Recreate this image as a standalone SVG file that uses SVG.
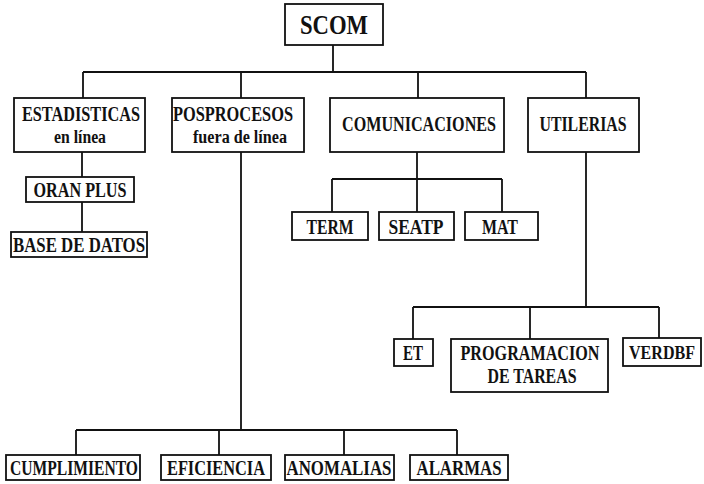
<svg xmlns="http://www.w3.org/2000/svg" width="704" height="484" viewBox="0 0 704 484">
<style>
.b{fill:#fff;stroke:#111;stroke-width:1.8}
.t{font-family:"Liberation Serif","Times New Roman",serif;font-weight:bold;font-size:20px;fill:#111;text-anchor:middle}
.s{font-size:18px}
.c{fill:none;stroke:#111;stroke-width:1.8}
</style>
<rect width="704" height="484" fill="#fff"/>
<g id="connectors" class="c">
<path d="M333,45V72M83,72H586M83,72V98M241,72V98M418,72V98M586,72V98"/>
<path d="M82,152V177M82,202V232"/>
<path d="M241,152V430M76,430H457M76,430V455M219,430V455M344,430V455M457,430V455"/>
<path d="M417,152V179M332,179H502M332,179V212M417,179V212M502,179V212"/>
<path d="M586,152V307M413,307H659M413,307V339M530,307V339M659,307V338"/>
</g>
<g id="scom"><rect class="b" x="285" y="4" width="98" height="41"/><text class="t" x="334" y="34" style="font-size:27px" textLength="68" lengthAdjust="spacingAndGlyphs">SCOM</text></g>
<g id="estadisticas"><rect class="b" x="14" y="98" width="131" height="54"/><text class="t" x="81" y="121" textLength="118" lengthAdjust="spacingAndGlyphs">ESTADISTICAS</text><text class="t s" x="80" y="143" textLength="52" lengthAdjust="spacingAndGlyphs">en línea</text></g>
<g id="posprocesos"><rect class="b" x="172" y="98" width="132" height="54"/><text class="t" x="233" y="121" textLength="120" lengthAdjust="spacingAndGlyphs">POSPROCESOS</text><text class="t s" x="240" y="143" textLength="94" lengthAdjust="spacingAndGlyphs">fuera de línea</text></g>
<g id="comunicaciones"><rect class="b" x="330" y="98" width="174" height="54"/><text class="t" x="419" y="131" textLength="154" lengthAdjust="spacingAndGlyphs">COMUNICACIONES</text></g>
<g id="utilerias"><rect class="b" x="528" y="98" width="111" height="54"/><text class="t" x="583" y="131" textLength="87" lengthAdjust="spacingAndGlyphs">UTILERIAS</text></g>
<g id="oranplus"><rect class="b" x="26" y="177" width="108" height="25"/><text class="t" x="80" y="197" textLength="93" lengthAdjust="spacingAndGlyphs">ORAN PLUS</text></g>
<g id="basedatos"><rect class="b" x="11" y="232" width="136" height="25"/><text class="t" x="79" y="252" textLength="132" lengthAdjust="spacingAndGlyphs">BASE DE DATOS</text></g>
<g id="term"><rect class="b" x="292" y="212" width="76" height="28"/><text class="t" x="330" y="234" textLength="47" lengthAdjust="spacingAndGlyphs">TERM</text></g>
<g id="seatp"><rect class="b" x="379" y="212" width="75" height="28"/><text class="t" x="416" y="234" textLength="55" lengthAdjust="spacingAndGlyphs">SEATP</text></g>
<g id="mat"><rect class="b" x="465" y="212" width="73" height="28"/><text class="t" x="500" y="234" textLength="36" lengthAdjust="spacingAndGlyphs">MAT</text></g>
<g id="et"><rect class="b" x="394" y="339" width="39" height="27"/><text class="t" x="413" y="360" textLength="20" lengthAdjust="spacingAndGlyphs">ET</text></g>
<g id="programacion"><rect class="b" x="451" y="339" width="157" height="53"/><text class="t" x="530" y="360" textLength="139" lengthAdjust="spacingAndGlyphs">PROGRAMACION</text><text class="t" x="532" y="383" textLength="89" lengthAdjust="spacingAndGlyphs">DE TAREAS</text></g>
<g id="verdbf"><rect class="b" x="623" y="338" width="78" height="28"/><text class="t" x="662" y="359" style="font-size:18px" textLength="66" lengthAdjust="spacingAndGlyphs">VERDBF</text></g>
<g id="cumplimiento"><rect class="b" x="6" y="455" width="134" height="25"/><text class="t" x="74" y="475" textLength="128" lengthAdjust="spacingAndGlyphs">CUMPLIMIENTO</text></g>
<g id="eficiencia"><rect class="b" x="161" y="455" width="110" height="25"/><text class="t" x="216" y="475" textLength="98" lengthAdjust="spacingAndGlyphs">EFICIENCIA</text></g>
<g id="anomalias"><rect class="b" x="285" y="455" width="109" height="25"/><text class="t" x="339" y="475" textLength="105" lengthAdjust="spacingAndGlyphs">ANOMALIAS</text></g>
<g id="alarmas"><rect class="b" x="410" y="455" width="98" height="25"/><text class="t" x="459" y="475" textLength="85" lengthAdjust="spacingAndGlyphs">ALARMAS</text></g>
</svg>
